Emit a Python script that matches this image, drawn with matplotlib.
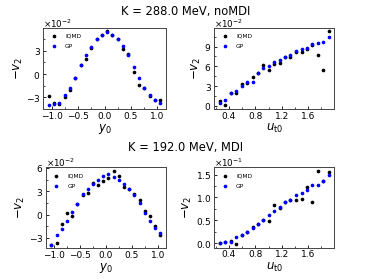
import numpy as np
import matplotlib
matplotlib.use("Agg")
import matplotlib.pyplot as plt
from matplotlib.ticker import MultipleLocator, AutoMinorLocator, ScalarFormatter

# ---------------- data ----------------
y0 = [-1.05, -0.95, -0.85, -0.75, -0.65, -0.55, -0.45, -0.35, -0.25, -0.15, -0.05,
      0.05, 0.15, 0.25, 0.35, 0.45, 0.55, 0.65, 0.75, 0.85, 0.95, 1.05]
ut0 = [0.26, 0.34, 0.43, 0.51, 0.59, 0.67, 0.76, 0.84, 0.92, 1.00, 1.09,
       1.17, 1.25, 1.33, 1.42, 1.50, 1.58, 1.66, 1.75, 1.83, 1.91]

# K = 288 MeV, noMDI  (values of -v2)
tl_iqmd = [-2.85, -3.75, -3.8, -3.0, -2.05, -0.45, 1.2, 1.9, 3.3, 4.5, 5.0,
           5.45, 4.95, 4.5, 3.25, 2.6, 0.25, -1.45, -1.8, -2.85, -3.35, -3.35]
tl_gp = [-4.0, -3.85, -3.65, -2.65, -1.75, -0.45, 1.2, 2.45, 3.45, 4.5, 5.0,
         5.4, 4.95, 4.45, 3.55, 2.45, 0.85, -0.45, -1.8, -2.7, -3.35, -3.7]
tr_iqmd = [0.7, 0.1, 1.95, 1.9, 3.35, 3.5, 4.35, 5.0, 6.15, 5.4, 6.35,
           6.5, 7.35, 7.4, 8.15, 8.15, 8.6, 9.3, 7.7, 5.4, 11.3]
tr_gp = [0.45, 0.9, 1.95, 2.25, 3.0, 3.6, 3.6, 5.0, 5.7, 6.0, 6.7,
         6.9, 7.45, 7.7, 8.3, 8.65, 8.85, 9.35, 9.55, 9.75, 10.45]

# K = 192 MeV, MDI
bl_iqmd = [-3.85, -3.7, -1.2, 0.2, -0.15, 1.3, 2.55, 2.8, 4.1, 3.85, 4.35,
           4.7, 5.6, 4.95, 3.55, 3.3, 2.65, 1.85, 0.45, -0.2, -1.4, -2.65]
bl_gp = [-3.85, -2.6, -1.9, -0.8, 0.4, 1.3, 2.6, 3.3, 3.9, 4.45, 4.95,
         5.2, 4.8, 4.45, 3.95, 3.3, 2.5, 1.5, 0.2, -0.8, -1.7, -2.35]
br_iqmd = [0.01, 0.03, 0.05, -0.02, 0.18, 0.24, 0.355, 0.41, 0.5, 0.49, 0.83,
           0.76, 0.9, 0.94, 0.94, 0.965, 1.23, 0.89, 1.58, 1.36, 1.56]
br_gp = [0.01, 0.02, 0.035, 0.14, 0.18, 0.245, 0.33, 0.41, 0.505, 0.605, 0.7,
         0.79, 0.895, 0.935, 1.05, 1.09, 1.17, 1.275, 1.275, 1.35, 1.49]

titles = ["K = 288.0 MeV, noMDI", "K = 192.0 MeV, MDI"]

W, H = 371, 279
fig = plt.figure(figsize=(W / 100, H / 100), dpi=100)


def px_axes(l, t, r, b):
    return fig.add_axes([l / W, 1 - b / H, (r - l) / W, (b - t) / H])


panels = [
    (px_axes(43.3, 27.7, 165.7, 109), y0, tl_iqmd, tl_gp, 1e-2, r"$y_0$", 0.5, 0.03),
    (px_axes(214.3, 27.7, 334, 109), ut0, tr_iqmd, tr_gp, 1e-2, r"$u_{\rm t0}$", 0.4, 0.03),
    (px_axes(46, 167.3, 165.7, 248.3), y0, bl_iqmd, bl_gp, 1e-2, r"$y_0$", 0.5, 0.03),
    (px_axes(214.3, 167.3, 334, 247.7), ut0, br_iqmd, br_gp, 1e-1, r"$u_{\rm t0}$", 0.4, 0.05),
]

for ax, x, iq, gp, scale, xl, xmaj, ymaj in panels:
    ax.scatter(x, np.array(iq) * scale, s=7, color="black", label="IQMD", lw=0)
    ax.scatter(x, np.array(gp) * scale, s=7, color="blue", label="GP", lw=0)
    ax.xaxis.set_major_locator(MultipleLocator(xmaj))
    ax.yaxis.set_major_locator(MultipleLocator(ymaj))
    ax.xaxis.set_minor_locator(AutoMinorLocator(2))
    ax.yaxis.set_minor_locator(AutoMinorLocator(2))
    fmt = ScalarFormatter(useMathText=True)
    fmt.set_powerlimits((0, 0))
    ax.yaxis.set_major_formatter(fmt)
    ax.yaxis.OFFSETTEXTPAD = 0.0
    ax.tick_params(which="both", direction="in", labelsize=6.5, pad=2)
    ax.tick_params(which="major", length=2.2, width=0.6)
    ax.tick_params(which="minor", length=1.2, width=0.5)
    ax.yaxis.get_offset_text().set_fontsize(6.3)
    ax.set_xlabel(xl, fontsize=8.5, labelpad=1)
    ax.set_ylabel(r"$-v_2$", fontsize=8.5, labelpad=1)
    for sp in ax.spines.values():
        sp.set_linewidth(0.7)
        sp.set_color("#444444")
    ax.legend(loc="upper left", fontsize=4.2, frameon=False, handlelength=1.5,
              handletextpad=1.2, borderaxespad=0.6, labelspacing=0.9,
              scatterpoints=1)

fig.text(0.5, 1 - 15.0 / H, titles[0], ha="center", va="baseline", fontsize=8.3)
fig.text(0.5, 1 - 150.5 / H, titles[1], ha="center", va="baseline", fontsize=8.3)

fig.savefig("out.png", dpi=100)
